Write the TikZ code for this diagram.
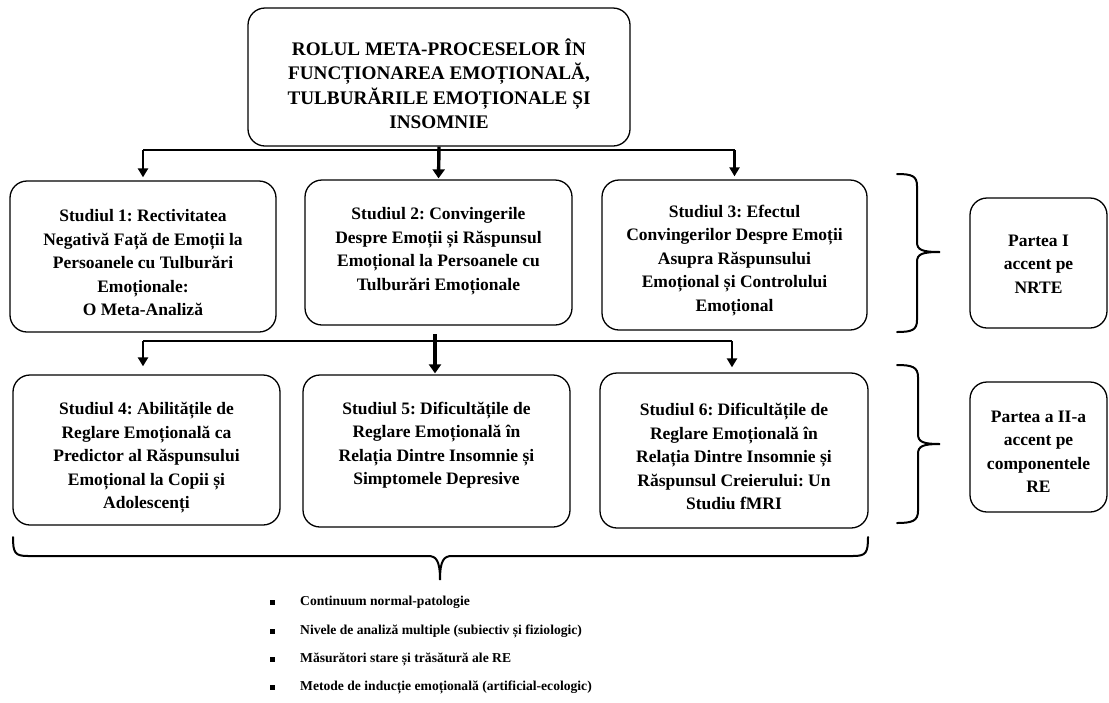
\documentclass[tikz,border=0pt]{standalone}
\usepackage{fontspec}
\setmainfont{Liberation Serif}
\usetikzlibrary{arrows.meta}
\frenchspacing

\begin{document}
\begin{tikzpicture}[x=1pt,y=-1pt,
  frame/.style={draw, rounded corners=17pt, line width=1.3pt, inner sep=0pt},
  boxtext/.style={align=center, inner sep=0pt, font=\bfseries\fontsize{17.5}{23.5}\selectfont},
  toptext/.style={align=center, inner sep=0pt, font=\bfseries\fontsize{19.2}{24.5}\selectfont},
  itemtext/.style={anchor=west, inner sep=0pt, font=\bfseries\fontsize{13.6}{16}\selectfont},
  bus/.style={line width=2.2pt},
  arr/.style={line width=2.4pt, -{Triangle[length=9pt,width=10pt]}, shorten >=3pt},
  mainarr/.style={line width=3.4pt, -{Triangle[length=9pt,width=12pt]}, shorten >=1pt},
  brace/.style={line width=2pt, line cap=round},
  sq/.style={fill=black, minimum size=5pt, inner sep=0pt}
]
\useasboundingbox (0,0) rectangle (1109,702);

% title box
\node[frame, minimum width=382, minimum height=138] (top) at (439,77) {};
\node[toptext] (ttop) at (439,84)
  {ROLUL META-PROCESELOR ÎN\\FUNCȚIONAREA EMOȚIONALĂ,\\TULBURĂRILE EMOȚIONALE ȘI\\INSOMNIE};

% first row of studies
\node[frame, minimum width=266, minimum height=151] (s1) at (143,256.5) {};
\node[boxtext] (t1) at (143,263)
  {Studiul 1: Rectivitatea\\Negativă Față de Emoții la\\Persoanele cu Tulburări\\Emoționale:\\O Meta-Analiză};
\node[frame, minimum width=267, minimum height=145] (s2) at (438.5,252.5) {};
\node[boxtext] (t2) at (438.5,251)
  {Studiul 2: Convingerile\\Despre Emoții și Răspunsul\\Emoțional la Persoanele cu\\Tulburări Emoționale};
\node[frame, minimum width=265, minimum height=150] (s3) at (734.5,255) {};
\node[boxtext] (t3) at (734.5,260.5)
  {Studiul 3: Efectul\\Convingerilor Despre Emoții\\Asupra Răspunsului\\Emoțional și Controlului\\Emoțional};

% second row of studies
\node[frame, minimum width=267, minimum height=150] (s4) at (146.5,450) {};
\node[boxtext] (t4) at (146.5,458)
  {Studiul 4: Abilitățile de\\Reglare Emoțională ca\\Predictor al Răspunsului\\Emoțional la Copii și\\Adolescenți};
\node[frame, minimum width=267, minimum height=152] (s5) at (436.5,451) {};
\node[boxtext] (t5) at (436.5,445)
  {Studiul 5: Dificultățile de\\Reglare Emoțională în\\Relația Dintre Insomnie și\\Simptomele Depresive};
\node[frame, minimum width=268, minimum height=155] (s6) at (734,450.5) {};
\node[boxtext] (t6) at (734,456.5)
  {Studiul 6: Dificultățile de\\Reglare Emoțională în\\Relația Dintre Insomnie și\\Răspunsul Creierului: Un\\Studiu fMRI};

% part labels
\node[frame, minimum width=137, minimum height=130] (p1) at (1038.5,263) {};
\node[boxtext] (tp1) at (1038.5,264) {Partea I\\accent pe\\NRTE};
\node[frame, minimum width=137, minimum height=130] (p2) at (1038.5,447) {};
\node[boxtext] (tp2) at (1038.5,452) {Partea a II-a\\accent pe\\componentele\\RE};

% connectors from the title box
\coordinate (busA) at (0,150);
\draw[bus] (s1.north |- busA) -- (s3.north |- busA);
\draw[arr] (s1.north |- busA) -- (s1.north);
\draw[arr] (s3.north |- busA) -- (s3.north);
\draw[mainarr] (top.south) -- (s2.north);

% connectors to the second row
\coordinate (l4) at (143,341);
\coordinate (l6) at (732,341);
\coordinate (c5) at (435,334);
\draw[bus] (l4) -- (l6);
\draw[arr, shorten >=8pt] (l4) -- (l4 |- s4.north);
\draw[arr, shorten >=5pt] (l6) -- (l6 |- s6.north);
\draw[mainarr] (c5) -- (c5 |- s5.north);

% right braces
\draw[brace] (897,174) .. controls (912,174) and (917,176) .. (917,186)
  -- (917,242) .. controls (917,250) and (922,252) .. (940,252)
  .. controls (922,252) and (917,254) .. (917,262)
  -- (917,320) .. controls (917,330) and (912,332) .. (897,332);
\draw[brace] (897,365) .. controls (912,365) and (918,367) .. (918,377)
  -- (918,434) .. controls (918,442) and (923,444) .. (940,444)
  .. controls (923,444) and (918,446) .. (918,454)
  -- (918,511) .. controls (918,521) and (912,523) .. (897,523);

% bottom brace
\draw[brace] (13,537) .. controls (13,553) and (15,556) .. (28,556)
  -- (428,556) .. controls (436,556) and (440,560) .. (440,580)
  .. controls (440,560) and (444,556) .. (452,556)
  -- (853,556) .. controls (866,556) and (868,553) .. (868,537);

% summary list
\node[sq] (q1) at (272,602) {};
\node[itemtext] (i1) at (300,602) {Continuum normal-patologie};
\node[sq] (q2) at (272,631) {};
\node[itemtext] (i2) at (300,631) {Nivele de analiză multiple (subiectiv și fiziologic)};
\node[sq] (q3) at (272,659) {};
\node[itemtext] (i3) at (300,659) {Măsurători stare și trăsătură ale RE};
\node[sq] (q4) at (272,687) {};
\node[itemtext] (i4) at (300,687) {Metode de inducție emoțională (artificial-ecologic)};
\end{tikzpicture}
\end{document}
